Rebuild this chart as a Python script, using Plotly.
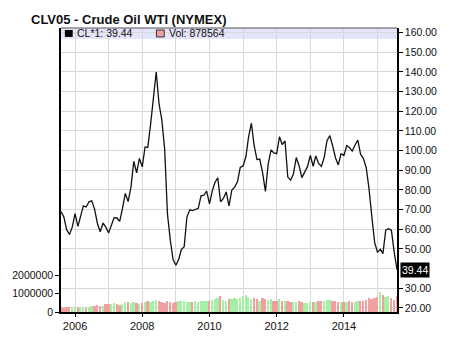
import plotly.graph_objects as go
import pandas as pd

# Monthly dates Aug 2005 .. Aug 2015
dates = pd.date_range("2005-08-01", "2015-08-01", freq="MS")

price_2005 = [68.94, 66.24, 59.76, 57.32, 61.04]
price_2006 = [67.92, 61.41, 66.63, 71.88, 71.29, 73.93, 74.40, 70.26, 62.91, 58.73, 63.13, 61.05]
price_2007 = [58.14, 61.79, 65.87, 65.71, 64.01, 70.68, 78.21, 74.04, 81.66, 94.53, 88.71, 95.98]
price_2008 = [91.75, 101.84, 101.58, 113.46, 127.35, 140.00, 124.08, 115.46, 100.64, 67.81, 54.43, 44.60]
price_2009 = [41.68, 44.76, 49.66, 51.12, 66.31, 69.89, 69.45, 69.96, 70.61, 77.00, 77.28, 79.36]
price_2010 = [72.89, 79.66, 83.76, 86.15, 73.97, 75.63, 78.95, 71.92, 79.97, 81.43, 84.11, 91.38]
price_2011 = [92.19, 96.97, 106.72, 113.93, 102.70, 95.42, 95.70, 88.81, 79.20, 93.19, 100.36, 98.83]
price_2012 = [98.48, 107.07, 103.02, 104.87, 86.53, 84.96, 88.06, 96.47, 92.19, 86.24, 88.91, 91.82]
price_2013 = [97.49, 92.05, 97.23, 93.46, 91.97, 96.56, 105.03, 107.65, 102.33, 96.38, 92.72, 98.42]
price_2014 = [97.49, 102.59, 101.58, 99.74, 102.71, 105.37, 98.17, 95.96, 91.16, 80.54, 66.15, 53.27]
price_2015 = [48.24, 49.76, 47.60, 59.63, 60.30, 59.47, 48.50, 39.44]

prices = (price_2005 + price_2006 + price_2007 + price_2008 + price_2009 + price_2010
          + price_2011 + price_2012 + price_2013 + price_2014 + price_2015)

vol_2005 = [0.25, 0.24, 0.26, 0.25, 0.24]
vol_2006 = [0.26, 0.27, 0.25, 0.26, 0.24, 0.25, 0.30, 0.33, 0.37, 0.35, 0.33, 0.42]
vol_2007 = [0.45, 0.42, 0.48, 0.44, 0.40, 0.46, 0.52, 0.55, 0.50, 0.55, 0.48, 0.45]
vol_2008 = [0.50, 0.55, 0.62, 0.52, 0.58, 0.65, 0.62, 0.55, 0.50, 0.58, 0.52, 0.48]
vol_2009 = [0.52, 0.58, 0.62, 0.58, 0.55, 0.52, 0.55, 0.58, 0.55, 0.60, 0.62, 0.58]
vol_2010 = [0.62, 0.66, 0.72, 0.75, 0.85, 0.68, 0.62, 0.70, 0.72, 0.75, 0.70, 0.78]
vol_2011 = [0.85, 0.90, 0.82, 0.72, 0.75, 0.70, 0.62, 0.78, 0.70, 0.65, 0.70, 0.62]
vol_2012 = [0.60, 0.72, 0.62, 0.58, 0.60, 0.55, 0.52, 0.55, 0.58, 0.52, 0.50, 0.48]
vol_2013 = [0.52, 0.55, 0.52, 0.62, 0.58, 0.62, 0.68, 0.66, 0.60, 0.58, 0.55, 0.52]
vol_2014 = [0.55, 0.52, 0.58, 0.55, 0.52, 0.58, 0.60, 0.62, 0.65, 0.75, 0.72, 0.78]
vol_2015 = [0.80, 1.08, 0.95, 0.80, 0.85, 0.78, 0.68, 0.878564]

volumes_m = (vol_2005 + vol_2006 + vol_2007 + vol_2008 + vol_2009 + vol_2010
             + vol_2011 + vol_2012 + vol_2013 + vol_2014 + vol_2015)
volumes = [v * 1e6 for v in volumes_m]

price_grid = [20, 30, 40, 50, 60, 70, 80, 90, 100, 110, 120, 130, 140, 150, 160]
price_ticks = [20, 30, 50, 60, 70, 80, 90, 100, 110, 120, 130, 140, 150, 160]  # 40 hidden by last-price box
vol_ticks = [0, 1000000, 2000000]
year_ticks = ["2006-01-01", "2008-01-01", "2010-01-01", "2012-01-01", "2014-01-01"]
year_labels = ["2006", "2008", "2010", "2012", "2014"]

title = "CLV05 - Crude Oil WTI (NYMEX)"
last_label = "CL*1: 39.44"
vol_label = "Vol: 878564"

RED = "#f0a0a0"
GREEN = "#a6f0a6"
colors = [RED] + [GREEN if prices[i] >= prices[i - 1] else RED for i in range(1, len(prices))]

FONT = "Liberation Sans, Arial, sans-serif"
GRID = "#d8d8d8"

fig = go.Figure()
fig.add_trace(go.Bar(x=dates, y=volumes, marker=dict(color=colors, line=dict(width=0)),
                     width=20 * 24 * 3600 * 1000, yaxis="y2", showlegend=False))
fig.add_trace(go.Scatter(x=dates, y=prices, mode="lines", line=dict(color="#111111", width=1.3),
                         yaxis="y", showlegend=False))

fig.update_layout(
    width=449, height=344,
    margin=dict(l=58, r=46, t=28, b=30),
    paper_bgcolor="white", plot_bgcolor="white",
    font=dict(family=FONT, size=11, color="#111"),
    bargap=0,
    xaxis=dict(
        type="date", range=["2005-08-01", "2015-08-01"],
        tickvals=year_ticks, ticktext=year_labels,
        ticks="outside", ticklen=3, tickcolor="black",
        showgrid=True, gridcolor=GRID, gridwidth=1,
        minor=dict(dtick="M12", tick0="2006-01-01", showgrid=True, gridcolor=GRID, ticks=""),
        showline=True, linecolor="black", linewidth=1.5, mirror=False,
        tickfont=dict(size=11, family=FONT, color="#111"),
        zeroline=False,
    ),
    yaxis=dict(
        side="right", range=[17.88, 162.37],
        tickvals=price_ticks, ticktext=["%.2f" % t for t in price_ticks],
        ticks="outside", ticklen=4, tickcolor="black",
        showgrid=True, gridcolor=GRID, gridwidth=1,
        minor=dict(tickvals=price_grid, showgrid=True, gridcolor=GRID, ticks=""),
        showline=True, linecolor="black", linewidth=1.5,
        tickfont=dict(size=10.5, family=FONT, color="#111"),
        zeroline=False,
    ),
    yaxis2=dict(
        side="left", overlaying="y", range=[0, 15.46e6],
        tickvals=vol_ticks, ticktext=[str(t) for t in vol_ticks],
        ticks="outside", ticklen=4, tickcolor="black",
        showgrid=False, showline=True, linecolor="black", linewidth=1.5,
        tickfont=dict(size=10.5, family=FONT, color="#111"),
        zeroline=False,
    ),
    shapes=[
        dict(type="rect", xref="paper", yref="paper", x0=0, x1=1, y0=1 - 11 / 286, y1=1,
             fillcolor="#e4e4fa", line=dict(width=0), layer="below"),
        dict(type="line", xref="paper", yref="paper", x0=0, x1=1, y0=1, y1=1,
             line=dict(color="#555", width=1)),
        dict(type="rect", xref="paper", yref="paper", x0=4 / 345, x1=12 / 345,
             y0=1 - 9 / 286, y1=1 - 2 / 286, fillcolor="black", line=dict(width=0)),
        dict(type="rect", xref="paper", yref="paper", x0=98 / 345, x1=106 / 345,
             y0=1 - 9 / 286, y1=1 - 2 / 286, fillcolor=RED, line=dict(color="#333", width=1)),
    ],
    annotations=[
        dict(text="<b>" + title + "</b>", xref="paper", yref="paper", x=-33 / 345, y=1 + 9 / 286,
             xanchor="left", yanchor="middle", showarrow=False,
             font=dict(size=13, family=FONT, color="#111")),
        dict(text=last_label, xref="paper", yref="paper", x=14 / 345, y=1 - 5.5 / 286,
             xanchor="left", yanchor="middle", showarrow=False,
             font=dict(size=10.5, family=FONT, color="#111")),
        dict(text=vol_label, xref="paper", yref="paper", x=109 / 345, y=1 - 5.5 / 286,
             xanchor="left", yanchor="middle", showarrow=False,
             font=dict(size=10.5, family=FONT, color="#111")),
        dict(text="%.2f" % prices[-1], xref="paper", yref="y", x=1, y=prices[-1],
             xanchor="left", yanchor="middle", showarrow=False, xshift=3,
             bgcolor="black", borderpad=1,
             font=dict(size=10.5, family=FONT, color="white")),
    ],
)

fig.write_html("out.html")
